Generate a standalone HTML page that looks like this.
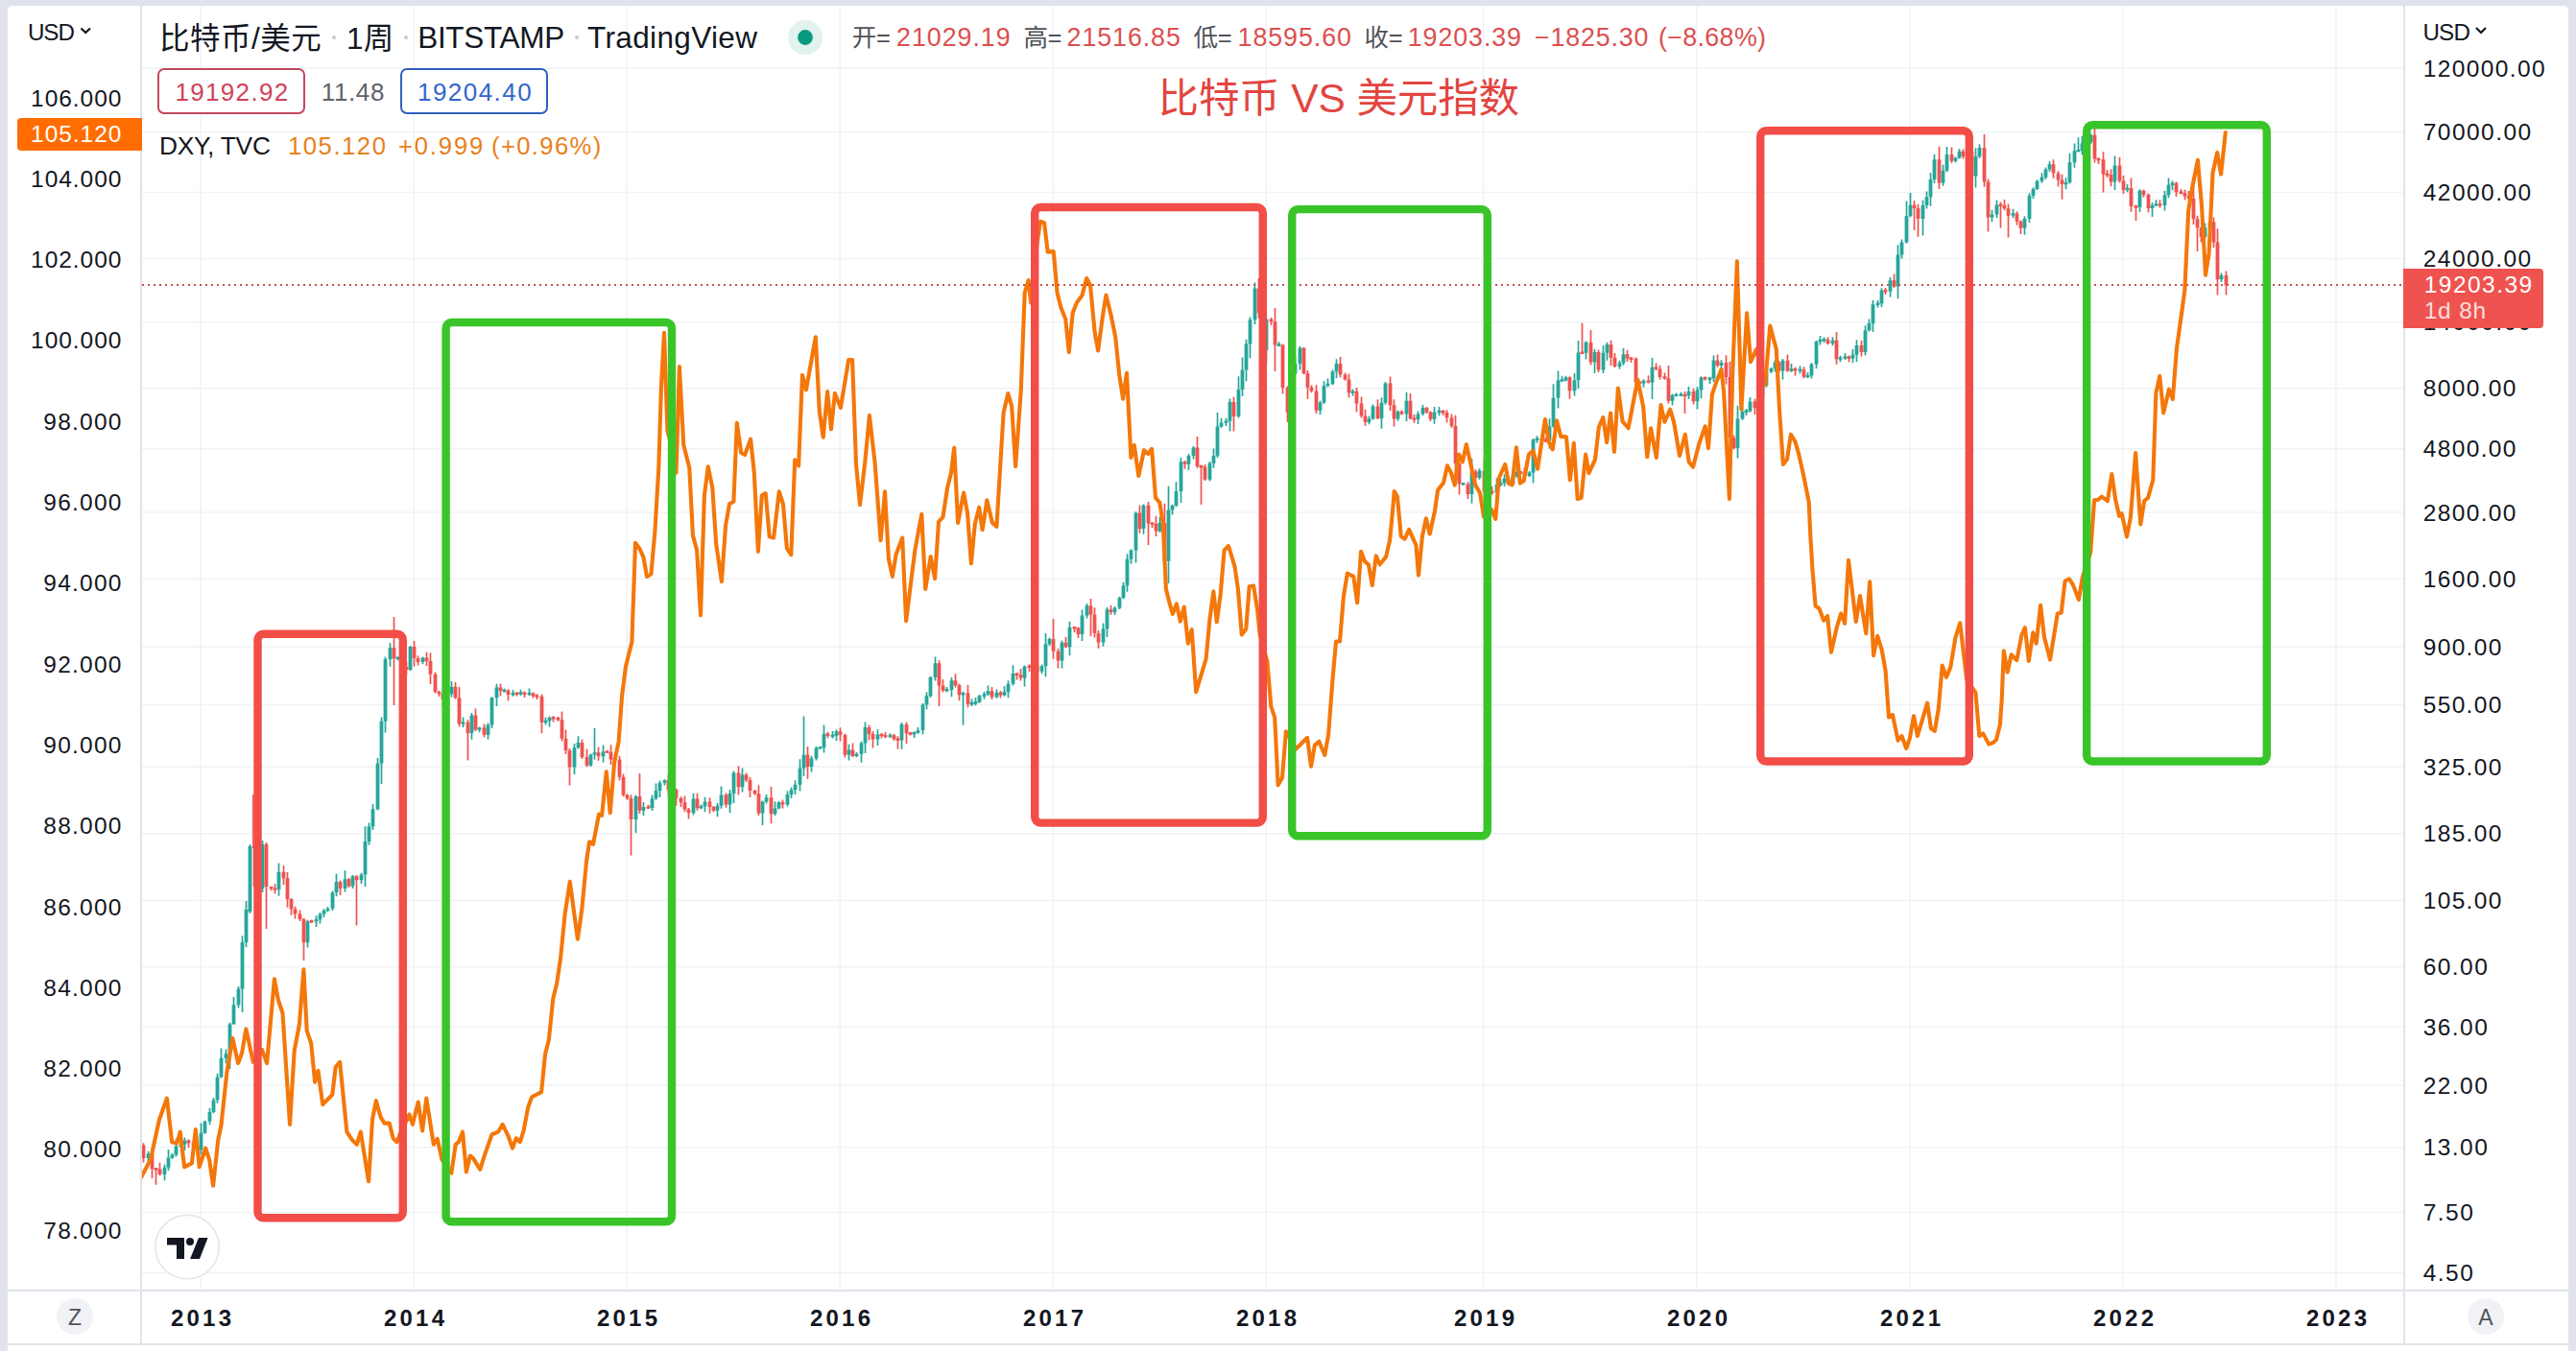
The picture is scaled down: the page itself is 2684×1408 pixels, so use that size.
<!DOCTYPE html>
<html lang="zh"><head><meta charset="utf-8"><title>比特币 VS 美元指数</title>
<style>
html,body{margin:0;padding:0}
body{width:2684px;height:1408px;overflow:hidden;position:relative;background:#e0e3eb;font-family:"Liberation Sans","Noto Sans CJK SC",sans-serif}
#panel{position:absolute;left:8px;top:6px;width:2668px;height:1402px;background:#fff;border-radius:5px 5px 0 0}
.t{position:absolute;white-space:nowrap}
.box{position:absolute;top:70.8px;height:44px;border:2px solid;border-radius:7px;background:#fff}
.dot{position:absolute;top:37px;width:4px;height:4px;border-radius:2px;background:#c9cbd2}
#plab{position:absolute;left:2504px;top:280px;width:146px;height:62px;background:#ef5350;border-radius:0 4px 4px 0}
</style></head><body>
<div id="panel"></div>
<svg width="2684" height="1408" viewBox="0 0 2684 1408" style="position:absolute;left:0;top:0">
<defs><clipPath id="pane"><rect x="148" y="6" width="2356" height="1338"/></clipPath></defs>
<path d="M148 71.2H2504M148 137.6H2504M148 200.5H2504M148 269.4H2504M148 335.8H2504M148 404.8H2504M148 467.7H2504M148 534.1H2504M148 603.0H2504M148 673.9H2504M148 734.5H2504M148 799.3H2504M148 868.7H2504M148 938.5H2504M148 1007.4H2504M148 1070.3H2504M148 1131.0H2504M148 1195.8H2504M148 1263.5H2504M148 1326.4H2504M209.0 6V1344M431.1 6V1344M653.1 6V1344M875.2 6V1344M1097.2 6V1344M1319.3 6V1344M1545.6 6V1344M1767.7 6V1344M1989.8 6V1344M2211.8 6V1344M2433.9 6V1344" stroke="#f0f2f8" stroke-width="1.5" fill="none"/>
<g clip-path="url(#pane)">
<path d="M154.5 1199.7 V1210M171.5 1213.5 V1230.3M175.5 1198 V1220.1M179.5 1201.9 V1208.1M183.5 1186.7 V1205.4M188.5 1189.6 V1195.9M192.5 1185.4 V1198.9M209.5 1170.4 V1203.4M213.5 1167.8 V1181.8M218.5 1155.1 V1172.2M222.5 1143.9 V1160.3M226.5 1118.8 V1149.8M230.5 1092.6 V1123.6M235.5 1093.5 V1108.2M239.5 1065.7 V1113.9M243.5 1038.9 V1067.4M248.5 1027.9 V1050.6M252.5 975.3 V1055M256.5 939 V986.9M260.5 880 V952M273.5 876 V930M290.5 899.4 V933.7M320.5 958.7 V987.5M329.5 954.2 V966M333.5 950.9 V962.6M337.5 947.2 V955.9M341.5 944.9 V950.4M346.5 928.6 V949.1M350.5 910.8 V934.2M359.5 907.3 V929.5M367.5 911.9 V926M376.5 909.7 V921.1M380.5 861.2 V924M384.5 857.6 V880.8M388.5 838 V864.9M393.5 789.9 V844.6M397.5 747.6 V816.9M401.5 684.5 V763.4M406.5 669.9 V694.8M414.5 684.2 V688.2M427.5 673.1 V699.2M440.5 684.5 V692.3M465.5 718.3 V733.2M470.5 710 V726.4M482.5 747.5 V758M491.5 742.9 V770.7M499.5 757.4 V763.3M508.5 753.5 V770.5M512.5 726.3 V758.9M517.5 712.8 V736.1M525.5 717.5 V721.6M534.5 718.9 V725.7M542.5 718.7 V725.1M551.5 717.5 V725.1M568.5 747.4 V755.4M572.5 746.5 V757.4M598.5 775 V807.1M602.5 767.2 V780.6M615.5 785.5 V798.9M619.5 758.7 V791.8M628.5 776.6 V794.6M640.5 790.4 V794.7M662.5 828.4 V867.9M670.5 835.9 V849.9M679.5 828.6 V844.9M683.5 816.6 V833.8M687.5 813.5 V831.1M692.5 812.3 V818.4M700.5 821.9 V824.4M722.5 826.7 V849.6M730.5 838.5 V843.3M734.5 830.8 V846.3M747.5 836.8 V851.2M751.5 819.4 V842.8M760.5 822.9 V847.2M764.5 803.6 V836.9M773.5 800.5 V825.5M794.5 834.4 V860M798.5 828 V837.6M807.5 835.2 V850.1M811.5 835 V843.6M820.5 824.6 V840.4M824.5 820.6 V831.9M828.5 813.3 V828.2M833.5 791.3 V824.6M837.5 746.5 V809.1M845.5 787.8 V804.8M850.5 777.7 V792.5M854.5 777.8 V780.7M858.5 755.5 V784.6M867.5 761.9 V769.4M871.5 760.5 V772.1M884.5 775.8 V792.5M892.5 783.9 V789.3M897.5 772.7 V794.8M901.5 752.4 V784.9M914.5 760.3 V777.1M927.5 764.3 V769M939.5 752.9 V780.7M952.5 762.3 V768.9M956.5 757.9 V764.8M961.5 732.9 V765.6M965.5 721.2 V739.3M969.5 704.7 V727.1M974.5 684.6 V709.6M986.5 716.1 V721.3M991.5 706.1 V726.3M1003.5 720.7 V755.8M1012.5 728.6 V735.9M1016.5 727 V735.3M1020.5 723.9 V732.7M1025.5 720.9 V728.7M1029.5 714.6 V724.9M1038.5 718.6 V727.8M1046.5 715.1 V725.8M1050.5 709.3 V727.2M1055.5 693.3 V714.5M1067.5 693.4 V715.5M1076.5 689.3 V699.9M1085.5 692.6 V702.3M1089.5 660 V705.2M1093.5 664.6 V672.9M1106.5 667.4 V696.6M1114.5 647.7 V683.3M1127.5 635.5 V668M1132.5 629 V644.5M1149.5 649.4 V673.8M1153.5 632.9 V664.1M1161.5 632.1 V641M1166.5 621.7 V634.9M1170.5 606.7 V624.3M1174.5 577.3 V616.7M1178.5 572.3 V587.7M1183.5 533.3 V586.6M1191.5 525.6 V556.8M1208.5 538.7 V555.1M1217.5 506.7 V608M1221.5 525.7 V536.4M1225.5 502.2 V528.3M1230.5 476.9 V523.9M1238.5 472.9 V490.1M1243.5 465 V478.6M1260.5 480.9 V501.5M1264.5 467.6 V487.7M1268.5 429.9 V477.1M1272.5 435.7 V445.8M1277.5 435.8 V444M1281.5 415.4 V449.4M1290.5 392.3 V435.6M1294.5 372.6 V413M1298.5 353.8 V397.2M1302.5 330.4 V373.3M1307.5 294.6 V338.1M1319.5 331.5 V378.4M1332.5 356.2 V361.3M1345.5 382.5 V438.1M1349.5 371.2 V390.6M1354.5 360.7 V385.6M1375.5 417.8 V432.2M1379.5 397.3 V421.1M1383.5 394.6 V403.5M1388.5 385.6 V401.2M1392.5 374.2 V394.1M1409.5 405.8 V412.7M1426.5 433.4 V442.3M1430.5 421.4 V437.6M1439.5 414.3 V446.8M1443.5 398 V421.7M1456.5 427.5 V438.7M1465.5 408.8 V439.1M1477.5 428.5 V441.9M1482.5 422.1 V433.2M1494.5 424 V441.7M1499.5 424.1 V433.2M1524.5 503.2 V505.8M1533.5 478.1 V524.8M1541.5 488.3 V499.8M1550.5 508.7 V515.7M1559.5 498.4 V518.5M1563.5 498.9 V507.3M1567.5 494.2 V507.1M1576.5 492 V505.6M1580.5 486.1 V497.8M1593.5 491.1 V497.2M1597.5 457.1 V503.6M1601.5 454.2 V461.8M1614.5 436.2 V467.6M1618.5 400.3 V445.8M1623.5 386.5 V425.5M1627.5 391.7 V397.7M1631.5 391.8 V397.6M1640.5 389.1 V412.4M1644.5 355 V405M1652.5 355.6 V374.4M1661.5 363.8 V389M1670.5 360 V388.9M1674.5 356.8 V375.8M1687.5 375.8 V384.7M1691.5 363.1 V380.8M1712.5 395.3 V403.8M1721.5 373 V416M1742.5 410.4 V422.4M1746.5 409.4 V413.2M1751.5 408.8 V413M1759.5 402.9 V416.1M1768.5 403.3 V426.6M1772.5 392.3 V415.2M1781.5 392.7 V399.9M1785.5 370.4 V398M1793.5 375.2 V384.1M1810.5 422.8 V477.5M1815.5 423.5 V437.8M1819.5 426.1 V432.9M1823.5 414 V429.7M1832.5 411.1 V427.1M1836.5 399.4 V419.2M1840.5 378.8 V403.4M1845.5 382.8 V389M1849.5 375.3 V387.6M1857.5 374.1 V395.4M1866.5 378.9 V387.7M1875.5 381.2 V389.6M1883.5 388.1 V393.9M1887.5 377.9 V394.5M1892.5 354.9 V384.1M1896.5 350 V359.6M1900.5 351.5 V357.3M1909.5 351.2 V360.3M1917.5 370.7 V377.2M1922.5 368.1 V375.1M1930.5 364.1 V378.3M1934.5 354.3 V376.9M1943.5 339.2 V370.4M1947.5 332.4 V345.4M1951.5 313.1 V346.1M1956.5 312.7 V320.5M1960.5 300.3 V320M1969.5 289 V309.6M1977.5 255.3 V311.2M1981.5 249.4 V269.5M1986.5 209.5 V253.7M1990.5 201 V226.5M2003.5 208.7 V245.5M2007.5 199.6 V217.6M2011.5 180.1 V214.7M2015.5 160.7 V191.1M2024.5 171.6 V193.8M2028.5 153 V179.2M2037.5 163.4 V169.5M2041.5 155.1 V165.5M2050.5 153.3 V165.2M2058.5 154.3 V195.4M2062.5 150.2 V164.9M2075.5 218.9 V231.2M2080.5 208.4 V227M2097.5 217.7 V227.3M2109.5 225.3 V244.7M2114.5 201.2 V232.1M2118.5 195.2 V207M2122.5 187.2 V198M2127.5 180.3 V190.7M2131.5 174.5 V186.9M2135.5 168.2 V179.1M2152.5 185.3 V197.3M2156.5 159.8 V191.6M2161.5 149.6 V174.7M2165.5 143.3 V158.3M2169.5 141.8 V161.6M2173.5 146.7 V150.4M2178.5 139.4 V150M2203.5 162.6 V198M2216.5 192 V200.3M2229.5 197.2 V220.9M2242.5 211.1 V226M2246.5 208.2 V214.9M2255.5 198.8 V219.4M2259.5 185.4 V206.2M2263.5 188.4 V198.2M2297.5 232.5 V249.2M2302.5 231.5 V239.8M2314.5 284.5 V293.9" stroke="#26a69a" stroke-width="1.7" fill="none"/>
<path d="M149.5 1191.2 V1211.6M158.5 1201.1 V1228M162.5 1216.9 V1234.8M166.5 1211.7 V1225.2M196.5 1187.3 V1196M201.5 1188.4 V1198.8M205.5 1189.1 V1200.3M265.5 828 V930M269.5 915 V940M277.5 878 V968M282.5 924.6 V928.2M286.5 921.2 V931.6M295.5 901.9 V922.2M299.5 909 V945.7M303.5 935.9 V953.8M307.5 944.8 V957.5M312.5 948.4 V959.9M316.5 956.8 V1001M324.5 958.5 V962M354.5 917.4 V932.9M363.5 914.9 V925M371.5 912 V964.5M410.5 643 V735M418.5 682.4 V703.1M423.5 689.8 V703.4M431.5 667.9 V694.5M435.5 683.3 V693.4M444.5 679.7 V694.1M448.5 680.5 V713M453.5 700.4 V722.4M457.5 719.7 V726M461.5 718.6 V735.6M474.5 711.1 V728.4M478.5 716 V757.2M487.5 750.2 V792.6M495.5 738.5 V761.9M504.5 754.4 V768.4M521.5 712.6 V725.6M529.5 718.1 V730.3M538.5 721.6 V725.4M546.5 720.5 V727.1M555.5 721.4 V727.4M559.5 723.2 V729.1M564.5 723.4 V764.3M576.5 746.3 V752.4M581.5 746.8 V751.7M585.5 741.4 V772.6M589.5 760.4 V786.1M593.5 780.1 V818.6M606.5 770.4 V790.9M611.5 780.6 V799.2M623.5 778.5 V792.8M632.5 781.7 V785M636.5 776.2 V797.1M645.5 787.8 V813.3M649.5 806.6 V830.2M653.5 827.4 V833.8M657.5 828.3 V891.5M666.5 806 V847.9M675.5 838.7 V843.1M696.5 806.5 V829.8M704.5 821.8 V839.8M709.5 830.3 V841M713.5 829.4 V846M717.5 841.9 V853.4M726.5 826.7 V844.7M739.5 831.5 V847.8M743.5 840.1 V846.3M756.5 826.4 V841.8M769.5 798.3 V828.6M777.5 805.5 V815M781.5 810 V831M786.5 823 V828.7M790.5 818.3 V850M803.5 819.9 V858.2M815.5 833.5 V842.4M841.5 778 V811.8M862.5 762.8 V769.2M875.5 758.3 V772.4M880.5 764.6 V789.5M888.5 774.5 V789.2M905.5 755.6 V771.5M909.5 762.1 V779.6M918.5 764.3 V769.4M922.5 763.1 V769.2M931.5 764.8 V772M935.5 767.3 V780.7M944.5 752.5 V775M948.5 762.8 V766.5M978.5 688.3 V736M982.5 708 V721.5M995.5 702.3 V716.5M999.5 712.5 V730.3M1008.5 713.8 V737.2M1033.5 716.1 V728.9M1042.5 719.9 V727.5M1059.5 700.9 V708.4M1063.5 697.1 V709.4M1072.5 692.4 V699.9M1080.5 691.3 V705.4M1097.5 645 V686.7M1102.5 675.8 V696.6M1110.5 663.9 V675.3M1119.5 652.8 V659M1123.5 653.4 V665.1M1136.5 624 V663M1140.5 633.2 V664.6M1144.5 656.8 V675.8M1157.5 630.7 V640.7M1187.5 526.6 V555.8M1196.5 523.1 V568M1200.5 544.3 V550M1204.5 537.8 V558.9M1213.5 524.8 V592.6M1234.5 480 V488.8M1247.5 455 V488.1M1251.5 484.4 V526M1255.5 483.9 V500.9M1285.5 413.8 V449.6M1311.5 289.9 V331.5M1315.5 323.9 V378.3M1324.5 331.1 V338.9M1328.5 320.9 V387M1336.5 358.4 V410.5M1341.5 402.2 V440M1358.5 361.7 V390.2M1362.5 386.1 V415.7M1366.5 401.6 V409.2M1371.5 401.3 V431M1396.5 372 V393.6M1401.5 388.6 V396.4M1405.5 389.4 V414.4M1413.5 404.1 V429.6M1418.5 413.6 V435.6M1422.5 426.8 V444M1435.5 416.2 V437.1M1448.5 392.5 V427.9M1452.5 416.2 V444.6M1460.5 427.2 V432.6M1469.5 409.9 V437.3M1473.5 432 V440.7M1486.5 423.9 V431.1M1490.5 428.4 V439.1M1503.5 426.9 V432.9M1507.5 427.2 V440.6M1512.5 431.5 V445.9M1516.5 432.8 V502.8M1520.5 480.9 V515.6M1529.5 502.3 V520M1537.5 489.2 V504.4M1546.5 478.6 V519.8M1554.5 506.8 V515.7M1571.5 496.8 V506.1M1584.5 491.1 V494M1588.5 487 V498.2M1606.5 453.6 V459.8M1610.5 455.8 V461.2M1635.5 392.2 V415.7M1648.5 336.8 V368.9M1657.5 343.9 V380.6M1665.5 364.6 V388.1M1678.5 354.8 V381.1M1682.5 368 V383.1M1695.5 364.8 V376.9M1699.5 372.2 V378.1M1704.5 372.5 V409.7M1708.5 397.1 V400.4M1717.5 391.2 V399.4M1725.5 378.4 V385.9M1729.5 380.9 V395.4M1734.5 388.4 V395.8M1738.5 380.9 V420.7M1755.5 407.9 V431M1764.5 405.1 V421.4M1776.5 392.5 V396.6M1789.5 369.4 V382.8M1798.5 370.3 V400.5M1802.5 376.7 V463.2M1806.5 453.6 V468.5M1828.5 415.4 V431.9M1853.5 376.1 V388.9M1862.5 369.6 V387.8M1870.5 382.4 V391.4M1879.5 382.2 V394.3M1904.5 351.2 V359.2M1913.5 346.1 V379.8M1926.5 370.5 V377.4M1939.5 355.1 V371.6M1964.5 300.1 V307M1973.5 285.5 V299.9M1994.5 209 V240M1998.5 212.7 V246.8M2020.5 152.7 V197M2033.5 153.4 V170.1M2045.5 155.2 V165.6M2054.5 154.9 V185.9M2067.5 140.1 V194.8M2071.5 186.6 V241.5M2084.5 210.6 V237.6M2088.5 208.1 V219.3M2092.5 212.6 V247.5M2101.5 220.2 V234.7M2105.5 229.5 V243.9M2139.5 166.3 V185.8M2144.5 178.2 V194.4M2148.5 181.7 V207.7M2182.5 130.2 V169.5M2186.5 164.4 V171M2191.5 158.2 V200.6M2195.5 177 V185.1M2199.5 176.3 V194.3M2208.5 163.7 V190.5M2212.5 183.1 V201.9M2220.5 185.5 V220.8M2225.5 213.4 V230M2233.5 197.7 V205.7M2238.5 201.4 V221.4M2250.5 208.3 V216.4M2267.5 189.5 V205.1M2272.5 196.9 V202.4M2276.5 197.8 V208.5M2280.5 199 V209.1M2285.5 193.9 V233.9M2289.5 224.8 V262M2293.5 236.3 V252.4M2306.5 226.4 V258.1M2310.5 238.2 V307.4M2319.5 282.4 V307.6" stroke="#ef5350" stroke-width="1.7" fill="none"/>
<path d="M152.6 1202.6h3.8V1207.1h-3.8zM169.6 1216.7h3.8V1224.1h-3.8zM173.6 1206.6h3.8V1216.7h-3.8zM177.6 1203.6h3.8V1206.6h-3.8zM181.6 1194.6h3.8V1203.6h-3.8zM186.6 1192.5h3.8V1194.9h-3.8zM190.6 1188.6h3.8V1192.7h-3.8zM207.6 1180.8h3.8V1198.6h-3.8zM211.6 1168.8h3.8V1180.8h-3.8zM216.6 1158.9h3.8V1168.8h-3.8zM220.6 1146.4h3.8V1158.9h-3.8zM224.6 1122.6h3.8V1146.4h-3.8zM228.6 1102.8h3.8V1122.6h-3.8zM233.6 1098.3h3.8V1102.8h-3.8zM237.6 1067.4h3.8V1098.3h-3.8zM241.6 1047.2h3.8V1067.4h-3.8zM246.6 1030.6h3.8V1047.2h-3.8zM250.6 982.1h3.8V1030.6h-3.8zM254.6 948h3.8V982.1h-3.8zM258.6 882h3.8V950h-3.8zM271.6 880h3.8V926h-3.8zM288.6 908.7h3.8V927h-3.8zM318.6 960.3h3.8V982.3h-3.8zM327.6 958.1h3.8V960.5h-3.8zM331.6 952.7h3.8V958.3h-3.8zM335.6 949.1h3.8V952.7h-3.8zM339.6 946.9h3.8V949.3h-3.8zM344.6 930.3h3.8V947h-3.8zM348.6 919.1h3.8V930.3h-3.8zM357.6 916.2h3.8V926.1h-3.8zM365.6 913.2h3.8V923.4h-3.8zM374.6 911.5h3.8V917.3h-3.8zM378.6 877.1h3.8V911.5h-3.8zM382.6 861.3h3.8V877.1h-3.8zM386.6 843.2h3.8V861.3h-3.8zM391.6 795.5h3.8V843.2h-3.8zM395.6 751.7h3.8V795.5h-3.8zM399.6 686.9h3.8V751.7h-3.8zM404.6 675.2h3.8V686.9h-3.8zM412.6 684.7h3.8V687.1h-3.8zM425.6 674.1h3.8V698.1h-3.8zM438.6 685.5h3.8V689.9h-3.8zM463.6 723.2h3.8V728.9h-3.8zM468.6 715.7h3.8V723.2h-3.8zM480.6 752.4h3.8V754.8h-3.8zM489.6 745.4h3.8V763.9h-3.8zM497.6 758.3h3.8V760.7h-3.8zM506.6 755.4h3.8V765.7h-3.8zM510.6 727.3h3.8V755.4h-3.8zM515.6 716.4h3.8V727.3h-3.8zM523.6 718.8h3.8V721.2h-3.8zM532.6 722.1h3.8V724.5h-3.8zM540.6 721.3h3.8V723.7h-3.8zM549.6 721.8h3.8V724.2h-3.8zM566.6 750.8h3.8V753.2h-3.8zM570.6 748h3.8V751.3h-3.8zM596.6 779.3h3.8V799.5h-3.8zM600.6 773.9h3.8V779.3h-3.8zM613.6 786.6h3.8V797.8h-3.8zM617.6 784.2h3.8V786.6h-3.8zM626.6 783.5h3.8V788.3h-3.8zM638.6 790.3h3.8V792.7h-3.8zM660.6 830h3.8V854h-3.8zM668.6 841h3.8V844.8h-3.8zM677.6 832.2h3.8V842.1h-3.8zM681.6 824h3.8V832.2h-3.8zM685.6 816.1h3.8V824h-3.8zM690.6 813.3h3.8V816.1h-3.8zM698.6 822h3.8V824.4h-3.8zM720.6 832.5h3.8V847.3h-3.8zM728.6 840h3.8V842.4h-3.8zM732.6 835.6h3.8V840.2h-3.8zM745.6 839.8h3.8V844.7h-3.8zM749.6 828.4h3.8V839.8h-3.8zM758.6 826.9h3.8V838.5h-3.8zM762.6 805.6h3.8V826.9h-3.8zM771.6 807.6h3.8V820.2h-3.8zM792.6 835.6h3.8V847.5h-3.8zM796.6 831.3h3.8V835.6h-3.8zM805.6 842.4h3.8V848.2h-3.8zM809.6 836.2h3.8V842.4h-3.8zM818.6 828h3.8V838.5h-3.8zM822.6 823.2h3.8V828h-3.8zM826.6 817.7h3.8V823.2h-3.8zM831.6 800.7h3.8V817.7h-3.8zM835.6 786.8h3.8V800.7h-3.8zM843.6 790.5h3.8V799.1h-3.8zM848.6 779.5h3.8V790.5h-3.8zM852.6 778.2h3.8V780.6h-3.8zM856.6 764.7h3.8V779.3h-3.8zM865.6 765.7h3.8V768.1h-3.8zM869.6 762.2h3.8V766.8h-3.8zM882.6 781.4h3.8V786.7h-3.8zM890.6 785.7h3.8V788.1h-3.8zM895.6 774.4h3.8V785.7h-3.8zM899.6 758.1h3.8V774.4h-3.8zM912.6 765.5h3.8V770.5h-3.8zM925.6 765.8h3.8V768.2h-3.8zM937.6 754.9h3.8V771.4h-3.8zM950.6 763h3.8V765.4h-3.8zM954.6 761h3.8V763.7h-3.8zM959.6 734.4h3.8V761h-3.8zM963.6 725.3h3.8V734.4h-3.8zM967.6 706h3.8V725.3h-3.8zM972.6 691.3h3.8V706h-3.8zM984.6 718h3.8V720.4h-3.8zM989.6 709.2h3.8V718.9h-3.8zM1001.6 722h3.8V724.4h-3.8zM1010.6 732.1h3.8V734.5h-3.8zM1014.6 731.1h3.8V733.5h-3.8zM1018.6 725.3h3.8V731.7h-3.8zM1023.6 723.3h3.8V725.7h-3.8zM1027.6 720.3h3.8V723.7h-3.8zM1036.6 721.7h3.8V726.4h-3.8zM1044.6 721h3.8V724.6h-3.8zM1048.6 712.8h3.8V721h-3.8zM1053.6 702.1h3.8V712.8h-3.8zM1065.6 694.5h3.8V706.6h-3.8zM1074.6 692.7h3.8V695.2h-3.8zM1083.6 694.2h3.8V699.7h-3.8zM1087.6 671.3h3.8V694.2h-3.8zM1091.6 666.1h3.8V671.3h-3.8zM1104.6 669.8h3.8V688.5h-3.8zM1112.6 653.8h3.8V674.3h-3.8zM1125.6 641.4h3.8V661.1h-3.8zM1130.6 631.3h3.8V641.4h-3.8zM1147.6 655.2h3.8V669.5h-3.8zM1151.6 635.2h3.8V655.2h-3.8zM1159.6 633.6h3.8V638.1h-3.8zM1164.6 623h3.8V633.6h-3.8zM1168.6 610.3h3.8V623h-3.8zM1172.6 582.7h3.8V610.3h-3.8zM1176.6 573.4h3.8V582.7h-3.8zM1181.6 534.8h3.8V573.4h-3.8zM1189.6 526.8h3.8V550.9h-3.8zM1206.6 545.1h3.8V553.4h-3.8zM1215.6 531.4h3.8V584.8h-3.8zM1219.6 527.1h3.8V531.4h-3.8zM1223.6 512.1h3.8V527.1h-3.8zM1228.6 481.3h3.8V512.1h-3.8zM1236.6 475h3.8V483.7h-3.8zM1241.6 466.4h3.8V475h-3.8zM1258.6 482.7h3.8V499.8h-3.8zM1262.6 475h3.8V482.7h-3.8zM1266.6 444.6h3.8V475h-3.8zM1270.6 440.6h3.8V444.6h-3.8zM1275.6 438.4h3.8V440.8h-3.8zM1279.6 419h3.8V438.7h-3.8zM1288.6 406h3.8V434.1h-3.8zM1292.6 385.6h3.8V406h-3.8zM1296.6 358.5h3.8V385.6h-3.8zM1300.6 333.3h3.8V358.5h-3.8zM1305.6 300.5h3.8V333.3h-3.8zM1317.6 332.7h3.8V364.9h-3.8zM1330.6 358.3h3.8V360.7h-3.8zM1343.6 389.2h3.8V429.7h-3.8zM1347.6 379.1h3.8V389.2h-3.8zM1352.6 362.8h3.8V379.1h-3.8zM1373.6 419.5h3.8V427.7h-3.8zM1377.6 401.9h3.8V419.5h-3.8zM1381.6 399.7h3.8V402.1h-3.8zM1386.6 387.2h3.8V400h-3.8zM1390.6 378.9h3.8V387.2h-3.8zM1407.6 407.4h3.8V409.8h-3.8zM1424.6 436.5h3.8V439.9h-3.8zM1428.6 423.5h3.8V436.5h-3.8zM1437.6 419.7h3.8V436.1h-3.8zM1441.6 399.6h3.8V419.7h-3.8zM1454.6 429h3.8V436.5h-3.8zM1463.6 417.8h3.8V431.6h-3.8zM1475.6 431.5h3.8V437h-3.8zM1480.6 425.1h3.8V431.5h-3.8zM1492.6 429.5h3.8V436.7h-3.8zM1497.6 427.8h3.8V430.2h-3.8zM1522.6 503.1h3.8V505.5h-3.8zM1531.6 491.5h3.8V515.1h-3.8zM1539.6 490.6h3.8V498h-3.8zM1548.6 511.1h3.8V513.5h-3.8zM1557.6 505h3.8V513.2h-3.8zM1561.6 503.1h3.8V505.5h-3.8zM1565.6 498.8h3.8V503.6h-3.8zM1574.6 496.5h3.8V504.5h-3.8zM1578.6 492.1h3.8V496.5h-3.8zM1591.6 492.4h3.8V496.1h-3.8zM1595.6 458.3h3.8V492.4h-3.8zM1599.6 456.6h3.8V459h-3.8zM1612.6 444.5h3.8V459.2h-3.8zM1616.6 414.7h3.8V444.5h-3.8zM1621.6 396.6h3.8V414.7h-3.8zM1625.6 395.3h3.8V397.7h-3.8zM1629.6 393.3h3.8V396.4h-3.8zM1638.6 396.2h3.8V407.2h-3.8zM1642.6 367.6h3.8V396.2h-3.8zM1650.6 356.8h3.8V367.8h-3.8zM1659.6 367.1h3.8V377.4h-3.8zM1668.6 367.7h3.8V385.4h-3.8zM1672.6 359.1h3.8V367.7h-3.8zM1685.6 378.3h3.8V382.1h-3.8zM1689.6 369.3h3.8V378.3h-3.8zM1710.6 396.7h3.8V399.4h-3.8zM1719.6 382.7h3.8V398.4h-3.8zM1740.6 412h3.8V417.7h-3.8zM1744.6 410.7h3.8V413.1h-3.8zM1749.6 410.6h3.8V413h-3.8zM1757.6 407.9h3.8V412.2h-3.8zM1766.6 406.5h3.8V418.3h-3.8zM1770.6 393.5h3.8V406.5h-3.8zM1779.6 393.5h3.8V395.9h-3.8zM1783.6 375.5h3.8V394.3h-3.8zM1791.6 377.9h3.8V381.1h-3.8zM1808.6 436.4h3.8V467h-3.8zM1813.6 429h3.8V436.4h-3.8zM1817.6 427.5h3.8V429.9h-3.8zM1821.6 418.5h3.8V428.4h-3.8zM1830.6 413.2h3.8V425.3h-3.8zM1834.6 401.8h3.8V413.2h-3.8zM1838.6 387.4h3.8V401.8h-3.8zM1843.6 384.1h3.8V387.4h-3.8zM1847.6 377.6h3.8V384.1h-3.8zM1855.6 375.8h3.8V386.5h-3.8zM1864.6 384.3h3.8V386.7h-3.8zM1873.6 384.4h3.8V386.8h-3.8zM1881.6 390.9h3.8V393.3h-3.8zM1885.6 379.7h3.8V391.4h-3.8zM1890.6 355.9h3.8V379.7h-3.8zM1894.6 353.9h3.8V356.3h-3.8zM1898.6 352.9h3.8V355.3h-3.8zM1907.6 354.7h3.8V357.9h-3.8zM1915.6 372.4h3.8V374.8h-3.8zM1920.6 371.3h3.8V373.7h-3.8zM1928.6 369.7h3.8V373.5h-3.8zM1932.6 360h3.8V369.7h-3.8zM1941.6 344.2h3.8V367.1h-3.8zM1945.6 336.9h3.8V344.2h-3.8zM1949.6 317.3h3.8V336.9h-3.8zM1954.6 315.6h3.8V318h-3.8zM1958.6 302.5h3.8V316.3h-3.8zM1967.6 292.3h3.8V303.8h-3.8zM1975.6 265.4h3.8V298.4h-3.8zM1979.6 252.6h3.8V265.4h-3.8zM1984.6 225h3.8V252.6h-3.8zM1988.6 213.7h3.8V225h-3.8zM2001.6 213.9h3.8V228h-3.8zM2005.6 205.2h3.8V213.9h-3.8zM2009.6 186.9h3.8V205.2h-3.8zM2013.6 166.3h3.8V186.9h-3.8zM2022.6 177.8h3.8V190.6h-3.8zM2026.6 161h3.8V177.8h-3.8zM2035.6 164.5h3.8V167.7h-3.8zM2039.6 157.8h3.8V164.5h-3.8zM2048.6 157.8h3.8V163h-3.8zM2056.6 163.1h3.8V183.4h-3.8zM2060.6 154.1h3.8V163.1h-3.8zM2073.6 223.4h3.8V226.5h-3.8zM2078.6 213.4h3.8V223.4h-3.8zM2095.6 222.3h3.8V224.7h-3.8zM2107.6 228h3.8V237.7h-3.8zM2112.6 204.1h3.8V228h-3.8zM2116.6 197h3.8V204.1h-3.8zM2120.6 188.8h3.8V197h-3.8zM2125.6 184.7h3.8V188.8h-3.8zM2129.6 176.4h3.8V184.7h-3.8zM2133.6 171.2h3.8V176.4h-3.8zM2150.6 189.9h3.8V192.3h-3.8zM2154.6 169.3h3.8V190h-3.8zM2159.6 157.3h3.8V169.3h-3.8zM2163.6 155.9h3.8V158.3h-3.8zM2167.6 149.3h3.8V156.9h-3.8zM2171.6 147.6h3.8V150h-3.8zM2176.6 140.8h3.8V148.3h-3.8zM2201.6 172.6h3.8V189.5h-3.8zM2214.6 195.8h3.8V198.2h-3.8zM2227.6 198.8h3.8V216.1h-3.8zM2240.6 213.9h3.8V217h-3.8zM2244.6 212.2h3.8V214.6h-3.8zM2253.6 203.3h3.8V213.9h-3.8zM2257.6 192.7h3.8V203.3h-3.8zM2261.6 190.5h3.8V192.9h-3.8zM2295.6 237.4h3.8V246.7h-3.8zM2300.6 231.5h3.8V237.4h-3.8zM2312.6 287.1h3.8V291.3h-3.8z" fill="#26a69a"/>
<path d="M147.6 1193.6h3.8V1207.1h-3.8zM156.6 1202.6h3.8V1218.3h-3.8zM160.6 1217.1h3.8V1219.5h-3.8zM164.6 1218.4h3.8V1224.1h-3.8zM194.6 1188.6h3.8V1191.2h-3.8zM199.6 1191.2h3.8V1193.6h-3.8zM203.6 1193.6h3.8V1198.6h-3.8zM263.6 882h3.8V924h-3.8zM267.6 924h3.8V928h-3.8zM275.6 880h3.8V924h-3.8zM280.6 923.9h3.8V926.3h-3.8zM284.6 925.4h3.8V927.8h-3.8zM293.6 908.7h3.8V915.2h-3.8zM297.6 915.2h3.8V937h-3.8zM301.6 937h3.8V947.6h-3.8zM305.6 947.6h3.8V952.6h-3.8zM310.6 952.6h3.8V958h-3.8zM314.6 958h3.8V982.3h-3.8zM322.6 959.1h3.8V961.5h-3.8zM352.6 919.1h3.8V926.1h-3.8zM361.6 916.2h3.8V923.4h-3.8zM369.6 913.2h3.8V917.3h-3.8zM408.6 675.2h3.8V686.2h-3.8zM416.6 685.7h3.8V694.9h-3.8zM421.6 694.9h3.8V698.1h-3.8zM429.6 674.1h3.8V686.1h-3.8zM433.6 686.1h3.8V689.9h-3.8zM442.6 685.5h3.8V689h-3.8zM446.6 689h3.8V702.8h-3.8zM451.6 702.8h3.8V721h-3.8zM455.6 720.9h3.8V723.3h-3.8zM459.6 723.2h3.8V728.9h-3.8zM472.6 715.7h3.8V727.3h-3.8zM476.6 727.3h3.8V754.6h-3.8zM485.6 752.7h3.8V763.9h-3.8zM493.6 745.4h3.8V760.5h-3.8zM502.6 758.5h3.8V765.7h-3.8zM519.6 716.4h3.8V720.1h-3.8zM527.6 719.8h3.8V724h-3.8zM536.6 721.6h3.8V724h-3.8zM544.6 721.6h3.8V724h-3.8zM553.6 722.5h3.8V725.4h-3.8zM557.6 724.4h3.8V726.8h-3.8zM562.6 725.7h3.8V752.8h-3.8zM574.6 747h3.8V749.4h-3.8zM579.6 748.1h3.8V750.5h-3.8zM583.6 750.2h3.8V769.7h-3.8zM587.6 769.7h3.8V782h-3.8zM591.6 782h3.8V799.5h-3.8zM604.6 773.9h3.8V788.9h-3.8zM609.6 788.9h3.8V797.8h-3.8zM621.6 784.2h3.8V788.3h-3.8zM630.6 782.4h3.8V784.8h-3.8zM634.6 783.7h3.8V791.5h-3.8zM643.6 791.5h3.8V809.8h-3.8zM647.6 809.8h3.8V828.4h-3.8zM651.6 828.4h3.8V832h-3.8zM655.6 832h3.8V854h-3.8zM664.6 830h3.8V844.8h-3.8zM673.6 840.3h3.8V842.7h-3.8zM694.6 813.3h3.8V823.4h-3.8zM702.6 822.9h3.8V832.1h-3.8zM707.6 832.1h3.8V836.3h-3.8zM711.6 836.3h3.8V843.6h-3.8zM715.6 843.6h3.8V847.3h-3.8zM724.6 832.5h3.8V842.3h-3.8zM737.6 835.6h3.8V841.1h-3.8zM741.6 841.1h3.8V844.7h-3.8zM754.6 828.4h3.8V838.5h-3.8zM767.6 805.6h3.8V820.2h-3.8zM775.6 807.6h3.8V812.9h-3.8zM779.6 812.9h3.8V824.1h-3.8zM784.6 824.1h3.8V827.2h-3.8zM788.6 827.2h3.8V847.5h-3.8zM801.6 831.3h3.8V848.2h-3.8zM813.6 836.1h3.8V838.5h-3.8zM839.6 786.8h3.8V799.1h-3.8zM860.6 764.6h3.8V767h-3.8zM873.6 762.2h3.8V766h-3.8zM878.6 766h3.8V786.7h-3.8zM886.6 781.4h3.8V788.1h-3.8zM903.6 758.1h3.8V765h-3.8zM907.6 765h3.8V770.5h-3.8zM916.6 764.7h3.8V767.1h-3.8zM920.6 765.9h3.8V768.3h-3.8zM929.6 766.3h3.8V770.3h-3.8zM933.6 769.6h3.8V772h-3.8zM942.6 754.9h3.8V764.2h-3.8zM946.6 763.3h3.8V765.7h-3.8zM976.6 691.3h3.8V714.6h-3.8zM980.6 714.6h3.8V719.5h-3.8zM993.6 709.2h3.8V714.2h-3.8zM997.6 714.2h3.8V724.3h-3.8zM1006.6 722.2h3.8V733.8h-3.8zM1031.6 720.3h3.8V726.4h-3.8zM1040.6 721.7h3.8V724.6h-3.8zM1057.6 701.5h3.8V703.9h-3.8zM1061.6 703.3h3.8V706.6h-3.8zM1070.6 693.6h3.8V696h-3.8zM1078.6 692.7h3.8V699.7h-3.8zM1095.6 666.1h3.8V678.7h-3.8zM1100.6 678.7h3.8V688.5h-3.8zM1108.6 669.8h3.8V674.3h-3.8zM1117.6 653h3.8V655.4h-3.8zM1121.6 654.6h3.8V661.1h-3.8zM1134.6 631.3h3.8V640.5h-3.8zM1138.6 640.5h3.8V660.1h-3.8zM1142.6 660.1h3.8V669.5h-3.8zM1155.6 635.2h3.8V638.1h-3.8zM1185.6 534.8h3.8V550.9h-3.8zM1194.6 526.8h3.8V545.5h-3.8zM1198.6 544.4h3.8V546.8h-3.8zM1202.6 545.8h3.8V553.4h-3.8zM1211.6 545.1h3.8V584.8h-3.8zM1232.6 481.3h3.8V483.7h-3.8zM1245.6 466.4h3.8V486h-3.8zM1249.6 485.1h3.8V487.5h-3.8zM1253.6 486.6h3.8V499.8h-3.8zM1283.6 419h3.8V434.1h-3.8zM1309.6 300.5h3.8V326.3h-3.8zM1313.6 326.3h3.8V364.9h-3.8zM1322.6 332.7h3.8V335.3h-3.8zM1326.6 335.3h3.8V359.6h-3.8zM1334.6 359.4h3.8V404h-3.8zM1339.6 404h3.8V429.7h-3.8zM1356.6 362.8h3.8V389.2h-3.8zM1360.6 389.2h3.8V403.8h-3.8zM1364.6 403.8h3.8V407.6h-3.8zM1369.6 407.6h3.8V427.7h-3.8zM1394.6 378.9h3.8V390.4h-3.8zM1399.6 390.4h3.8V395.4h-3.8zM1403.6 395.4h3.8V409.3h-3.8zM1411.6 407.8h3.8V420.4h-3.8zM1416.6 420.4h3.8V433.5h-3.8zM1420.6 433.5h3.8V439.9h-3.8zM1433.6 423.5h3.8V436.1h-3.8zM1446.6 399.6h3.8V422.2h-3.8zM1450.6 422.2h3.8V436.5h-3.8zM1458.6 429h3.8V431.6h-3.8zM1467.6 417.8h3.8V436.3h-3.8zM1471.6 435.4h3.8V437.8h-3.8zM1484.6 425.1h3.8V429.4h-3.8zM1488.6 429.4h3.8V436.7h-3.8zM1501.6 428h3.8V430.4h-3.8zM1505.6 430h3.8V435.3h-3.8zM1510.6 435.3h3.8V443.9h-3.8zM1514.6 443.9h3.8V483.1h-3.8zM1518.6 483.1h3.8V504.3h-3.8zM1527.6 504.2h3.8V515.1h-3.8zM1535.6 491.5h3.8V498h-3.8zM1544.6 490.6h3.8V512.5h-3.8zM1552.6 511.5h3.8V513.9h-3.8zM1569.6 498.8h3.8V504.5h-3.8zM1582.6 491.3h3.8V493.7h-3.8zM1586.6 492.8h3.8V496.1h-3.8zM1604.6 456.9h3.8V459.3h-3.8zM1608.6 457.8h3.8V460.2h-3.8zM1633.6 393.3h3.8V407.2h-3.8zM1646.6 366.5h3.8V368.9h-3.8zM1655.6 356.8h3.8V377.4h-3.8zM1663.6 367.1h3.8V385.4h-3.8zM1676.6 359.1h3.8V372.7h-3.8zM1680.6 372.7h3.8V382.1h-3.8zM1693.6 369.3h3.8V373.6h-3.8zM1697.6 372.5h3.8V374.9h-3.8zM1702.6 373.8h3.8V398.4h-3.8zM1706.6 397.7h3.8V400.1h-3.8zM1715.6 396.4h3.8V398.8h-3.8zM1723.6 382.4h3.8V384.8h-3.8zM1727.6 384.5h3.8V392.9h-3.8zM1732.6 392.3h3.8V394.7h-3.8zM1736.6 394.2h3.8V417.7h-3.8zM1753.6 410.8h3.8V413.2h-3.8zM1762.6 407.9h3.8V418.3h-3.8zM1774.6 393.1h3.8V395.5h-3.8zM1787.6 375.5h3.8V381.1h-3.8zM1796.6 377.9h3.8V392.9h-3.8zM1800.6 392.9h3.8V456.2h-3.8zM1804.6 456.2h3.8V467h-3.8zM1826.6 418.5h3.8V425.3h-3.8zM1851.6 377.6h3.8V386.5h-3.8zM1860.6 375.8h3.8V386.5h-3.8zM1868.6 384h3.8V386.4h-3.8zM1877.6 385.2h3.8V392.7h-3.8zM1902.6 353.9h3.8V357.9h-3.8zM1911.6 354.7h3.8V374.2h-3.8zM1924.6 371.5h3.8V373.9h-3.8zM1937.6 360h3.8V367.1h-3.8zM1962.6 302h3.8V304.4h-3.8zM1971.6 292.3h3.8V298.4h-3.8zM1992.6 213.7h3.8V216.9h-3.8zM1996.6 216.9h3.8V228h-3.8zM2018.6 166.3h3.8V190.6h-3.8zM2031.6 161h3.8V167.7h-3.8zM2043.6 157.8h3.8V163h-3.8zM2052.6 157.8h3.8V183.4h-3.8zM2065.6 154.1h3.8V189.4h-3.8zM2069.6 189.4h3.8V226.5h-3.8zM2082.6 212.5h3.8V214.9h-3.8zM2086.6 214h3.8V217.2h-3.8zM2090.6 217.2h3.8V224.7h-3.8zM2099.6 222.4h3.8V230.8h-3.8zM2103.6 230.8h3.8V237.7h-3.8zM2137.6 171.2h3.8V180.6h-3.8zM2142.6 180.6h3.8V187.4h-3.8zM2146.6 187.4h3.8V192.1h-3.8zM2180.6 140.8h3.8V165.6h-3.8zM2184.6 164.8h3.8V167.2h-3.8zM2189.6 166.3h3.8V181.5h-3.8zM2193.6 180.6h3.8V183h-3.8zM2197.6 182.1h3.8V189.5h-3.8zM2206.6 172.6h3.8V188.6h-3.8zM2210.6 188.6h3.8V197.9h-3.8zM2218.6 196.1h3.8V215h-3.8zM2223.6 214.3h3.8V216.7h-3.8zM2231.6 198.8h3.8V202.9h-3.8zM2236.6 202.9h3.8V217h-3.8zM2248.6 212.2h3.8V214.6h-3.8zM2265.6 190.7h3.8V200.2h-3.8zM2270.6 199.6h3.8V202h-3.8zM2274.6 201.3h3.8V204.5h-3.8zM2278.6 204.5h3.8V207.1h-3.8zM2283.6 207.1h3.8V228.3h-3.8zM2287.6 228.3h3.8V237.3h-3.8zM2291.6 237.3h3.8V246.7h-3.8zM2304.6 231.5h3.8V252.4h-3.8zM2308.6 252.4h3.8V291.3h-3.8zM2317.6 287.1h3.8V297.2h-3.8z" fill="#ef5350"/>
<path d="M263.6 828V884" stroke="#ef5350" stroke-width="1.3" fill="none"/>
<path d="M147 1227.2 L156.9 1208.4 L166 1166.7 L173.9 1144.6 L179.1 1190.2 L184.3 1191.5 L187.7 1179.7 L192.1 1216.2 L199.9 1212.3 L203.8 1177.1 L207.7 1216.2 L214.2 1196.7 L218.1 1208.4 L222.1 1235.8 L227.3 1187.6 L230.4 1173.2 L236.4 1117.2 L242.4 1082.1 L248.1 1108.1 L252 1097.7 L256.4 1072.4 L263.7 1106.8 L272.9 1093.8 L278.1 1108.1 L285.9 1020.3 L289.8 1041.7 L294.5 1056 L302 1171.9 L306.7 1095.1 L311.9 1067.7 L316.4 1010.4 L319.7 1074.2 L324.2 1087.3 L328.1 1127.6 L331.5 1115.9 L336.2 1151.1 L346.3 1140.7 L349.7 1112 L354.1 1106.8 L361.4 1179.7 L366.6 1187.6 L371.8 1192.8 L375.8 1179.7 L384.1 1231.3 L388 1166.7 L391.9 1147.2 L396.6 1164.1 L400.5 1170.6 L405.7 1170.6 L409.6 1186.3 L413.5 1190.2 L416.6 1182.3 L426.5 1161.5 L429.9 1171.9 L435.7 1148.5 L440.1 1178.4 L444.3 1144.6 L451.8 1192.8 L455.7 1187 L460.4 1208.4 L470.3 1222.7 L474.7 1192.8 L477.9 1190.2 L482 1179.7 L485.9 1221.4 L489.8 1204.5 L493 1207.1 L500.3 1218.8 L504.7 1204.5 L512.5 1182.3 L519 1179.7 L523.7 1171.9 L530 1185 L533.9 1196.7 L537.8 1186.3 L541.9 1190.2 L545.6 1178.4 L550.3 1153.7 L554.2 1143.3 L564.1 1138.1 L568 1099 L571.9 1083.4 L576.3 1040.4 L580.2 1024.7 L584.1 998.4 L588.6 952.8 L593.8 918.9 L601.9 978.8 L606.3 947.6 L611 898.1 L614.1 877.2 L618 879.8 L624 848.6 L627.1 849.9 L631.8 804.3 L635.7 847.3 L640.2 793.9 L644.6 773 L648 726.1 L651.9 694.9 L658.4 668.8 L662 565.7 L666.7 572.2 L670.6 581.3 L674 600.9 L678.4 598.3 L682.3 555.3 L686.3 487.6 L688.9 404.2 L692 346.9 L695.4 448.5 L700.1 466.7 L704.5 492.8 L707.9 382.1 L712.3 464.1 L718.3 487.6 L721.9 557.9 L726.1 573.5 L730 641.3 L733.9 516.2 L737.8 486.3 L742.3 508.4 L746.2 567 L751.9 606.1 L756.1 547.5 L760 525.3 L764.4 522.7 L767.8 440.7 L772.2 471.9 L776.1 474 L782.1 457.6 L785.8 492.8 L789.9 574.8 L793.8 516.2 L797.7 514.1 L801.7 559.2 L806.1 560.5 L811.8 512.3 L816 525.3 L819.9 571.7 L824.3 578.2 L828.2 479.2 L832.1 485.5 L836 390.7 L839.9 406.3 L849.8 351.3 L853.8 428.9 L857.7 455.8 L862.1 408.1 L866 447.2 L869.9 409.9 L875.9 425 L884.2 375 L888.1 375 L892 483.7 L896 526.1 L901.2 482.3 L905.9 432.9 L911.6 482.3 L917.6 563.1 L922 512.3 L925.9 582.6 L929.8 600.9 L933.7 577.4 L940.2 560.5 L944.1 647.2 L953.3 573.5 L960.3 535.8 L964.2 613.9 L969.7 580 L974.1 603 L978 543.6 L982.4 539.1 L987.1 508.4 L991 492.8 L994.2 466.7 L998.1 544.9 L1004.1 513.6 L1008 534.4 L1011.9 587.3 L1015.8 546.2 L1020.2 528.7 L1023.6 552.2 L1028.3 521.4 L1034 544.9 L1038.4 548.8 L1041.8 492.8 L1045.6 430.1 L1050.3 410 L1054.2 423.6 L1058.1 486.1 L1063.8 406.6 L1067.7 305 L1071.6 292 L1074.2 315.5 L1078.1 271.2 L1083.9 230.8 L1088 232.1 L1091.7 262.6 L1097.7 262.1 L1101.6 305.8 L1105.5 320.7 L1110.2 332.4 L1113.8 367 L1117.7 325.9 L1121.9 315.5 L1127.6 307.6 L1132.1 289.9 L1136 297.2 L1140.7 346.7 L1144.1 365.5 L1148.5 332.4 L1152.4 307.6 L1157.6 328.5 L1162.3 351.9 L1166.2 390.5 L1170.1 415.8 L1174 388.9 L1178.4 477 L1181.8 463.9 L1186.3 496 L1192 469.2 L1196.2 473.1 L1200.1 467.8 L1204 518.6 L1208.4 523.9 L1211.8 546 L1214.9 613.8 L1218.8 629.4 L1221.9 639.8 L1225.9 629.4 L1229.8 647.6 L1233.7 632.5 L1237.8 670.6 L1241.7 656 L1246.2 721.1 L1256.6 686.7 L1260.5 645 L1264.4 616.4 L1267.8 648.2 L1271.7 619 L1275.6 573.4 L1280 569 L1286.5 590.3 L1289.9 613.8 L1293.8 661.5 L1298.3 655.5 L1301.7 611.2 L1306.1 610.4 L1310 634.6 L1312.6 660.7 L1320.4 689.3 L1324.3 736.2 L1328.2 747.9 L1331.6 818.3 L1336 810.5 L1339.9 762.3 L1350.4 780.5 L1362.1 768.8 L1366 798.7 L1369.9 776.6 L1374.3 772.7 L1380.3 787 L1384.2 764.9 L1388.1 712.8 L1392 668.5 L1396 668.5 L1399.9 621.6 L1403.8 597.6 L1410.3 600.8 L1414.2 628.1 L1418.1 574.7 L1422 585.1 L1425.9 588.3 L1429.8 609.9 L1433.7 579.4 L1437.6 588.3 L1444.1 580.4 L1448.1 563 L1451.2 530.4 L1452.7 512.1 L1455.9 517.3 L1459.8 559.1 L1463.7 561.7 L1468.1 551.8 L1475.4 568.2 L1478 599.5 L1481.9 559.1 L1485.8 540.3 L1489.7 556.5 L1494.9 533 L1498.1 510.8 L1504.1 503 L1508 485.3 L1511.9 492.6 L1515.8 505.6 L1520 473.6 L1523.9 481.4 L1527.8 463.2 L1533 486.6 L1536.9 504.9 L1542.1 514 L1546 538.7 L1553.9 530.9 L1558.3 540.8 L1561.7 498.4 L1568.2 484 L1572.1 503.6 L1575.5 505.4 L1579.9 466.3 L1583.8 503.6 L1587.7 501 L1592.9 473.6 L1597.4 469.7 L1602.1 488.7 L1609.9 437.1 L1613.8 460.6 L1617.7 468.4 L1622.1 438.4 L1626.3 454.9 L1632 455.4 L1635.9 500.2 L1639.8 461.9 L1643.7 520 L1647.6 518.7 L1652.1 473.6 L1655.5 493.1 L1662 478.8 L1665.9 445 L1670.3 435.1 L1674.2 461.1 L1678.1 430.6 L1682 471 L1685.9 404.6 L1690.6 439.2 L1696.6 446.3 L1706.3 395.5 L1712.2 424.1 L1716.2 476.2 L1720.1 446.3 L1725.8 477 L1730.5 422 L1734.4 439.7 L1740.1 426.7 L1744 439.7 L1750 474.9 L1755.8 452.8 L1759.7 481.4 L1764.1 486.6 L1770.1 463.2 L1776.6 444.4 L1780 467.1 L1783.9 411.1 L1788.3 398.1 L1793.5 385 L1796.1 408.5 L1801.9 520 L1805.2 390.2 L1809.9 272.2 L1814.4 426.7 L1820.1 326.4 L1824 377.2 L1830 364.2 L1839.1 400.7 L1844.3 339.5 L1850.8 364.2 L1854.2 429.3 L1857.9 484 L1862 478.8 L1865.9 452.8 L1870.4 460.1 L1874.3 473.6 L1879.5 497.1 L1884.7 523.1 L1886.4 559.9 L1888.5 593.8 L1891.6 631.6 L1895.5 634.2 L1900.2 646.7 L1904.1 642 L1908 679.7 L1913.8 653.7 L1918.2 639.4 L1922.1 649.8 L1926 583.9 L1933.8 648 L1938 621.1 L1944.3 660.2 L1948.2 606.3 L1952.1 683.1 L1956.2 662.8 L1960.7 677.1 L1964.6 699.3 L1968 747.5 L1971.9 744.9 L1977.6 771.7 L1981.5 767 L1986.2 780 L1989.8 769.6 L1994 746.2 L1997.9 767 L2008.1 732.6 L2012 759.2 L2015.9 761.8 L2019.8 738.4 L2023.7 693.5 L2027.9 705.8 L2032.3 695.4 L2037.5 664.1 L2042.2 649.3 L2046.1 682.3 L2049.2 708.4 L2058.4 721.9 L2062.3 767 L2066.2 764.4 L2072.2 775.6 L2076.6 774 L2080 770.9 L2083.9 755.3 L2085.7 729.2 L2087.8 678.4 L2091.7 700.6 L2095.6 682.3 L2101.3 688.1 L2106.5 661.5 L2109.9 654.2 L2113.8 688.9 L2118.3 659.4 L2121.7 670.6 L2126.1 630.8 L2130 664.1 L2136 687.6 L2143.8 639.4 L2147.7 638.6 L2151.6 605.5 L2156 603.4 L2159.9 609.4 L2165.9 625 L2169.8 601.6 L2178.2 575.5 L2182.1 521.4 L2186 520.8 L2189.9 517.7 L2195.9 522.1 L2200.3 494 L2204.2 520.8 L2208.1 537.8 L2210.7 535.2 L2216 559.4 L2219.9 539.1 L2225.1 472.1 L2230.3 546.4 L2234.2 522.1 L2238.1 518.8 L2243.3 500 L2246.4 409.6 L2250.3 391.9 L2254.2 430.4 L2259.9 405.7 L2263.8 416.1 L2268 362.7 L2272.4 331.4 L2276.3 302.8 L2280.2 219.4 L2284.1 196 L2289.9 166.8 L2294 214.2 L2298 286.6 L2301.6 263.7 L2305.5 180.3 L2310.2 159 L2314.1 181.6 L2318.8 138.1" stroke="#f4770a" stroke-width="4.1" fill="none" stroke-linejoin="round" stroke-linecap="round"/>
<path d="M148 297H2504" stroke="#c8504d" stroke-width="2" stroke-dasharray="2 4" fill="none"/>
<rect x="268.5" y="660.8" width="151.3" height="608.5" rx="6" fill="none" stroke="#f24d47" stroke-width="8.4"/><rect x="464.6" y="336" width="235.4" height="937.2" rx="6" fill="none" stroke="#39c529" stroke-width="8.4"/><rect x="1078.2" y="216" width="237.6" height="641.6" rx="6" fill="none" stroke="#f24d47" stroke-width="8.4"/><rect x="1346.2" y="218.1" width="203.6" height="653.2" rx="6" fill="none" stroke="#39c529" stroke-width="8.4"/><rect x="1834.2" y="136.3" width="217.6" height="657.2" rx="6" fill="none" stroke="#f24d47" stroke-width="8.4"/><rect x="2174.2" y="130.2" width="187.6" height="663.3" rx="6" fill="none" stroke="#39c529" stroke-width="8.4"/>
</g>
<path d="M147 6V1401M2505 6V1401M8 1345H2676M8 1401H2676" stroke="#e0e3eb" stroke-width="2" fill="none"/>
<circle cx="195" cy="1299.6" r="33.2" fill="#fff" stroke="#e6e6e8" stroke-width="1.6"/>
<path d="M174 1290H192V1312H184V1297.6H174z" fill="#131722"/>
<circle cx="198" cy="1294" r="4" fill="#131722"/>
<path d="M207 1290H216.6L208 1312H198.1z" fill="#131722"/>
<circle cx="78" cy="1372" r="19" fill="#f1f2f6"/>
<circle cx="2590" cy="1372" r="19" fill="#f1f2f6"/>
<circle cx="839" cy="39" r="18" fill="#e2f2ef"/>
<circle cx="839" cy="39" r="7.9" fill="#089981"/>
<path d="M84.5 29.5L89.2 34L94 29.5" stroke="#131722" stroke-width="2.2" fill="none"/>
<path d="M2580 29L2585 34L2590 29" stroke="#131722" stroke-width="2.2" fill="none"/>
<path d="M18 127a4 4 0 0 1 4-4H148V157H22a4 4 0 0 1-4-4z" fill="#ff6d00"/>
</svg>
<div class="box" style="left:163.5px;width:150px;border-color:#c0495c"></div>
<div class="box" style="left:417px;width:150px;border-color:#2f60c0"></div>
<div class="dot" style="left:346px"></div><div class="dot" style="left:421px"></div><div class="dot" style="left:599px"></div>
<div id="usdl" class="t" style="top:17.9px;height:31px;line-height:31px;font-size:24.2px;color:#131722;letter-spacing:-1.04px;left:28.9px;">USD</div>
<div id="usdr" class="t" style="top:17.9px;height:31px;line-height:31px;font-size:24.2px;color:#131722;letter-spacing:-0.79px;left:2524.4px;">USD</div>
<div id="l0" class="t" style="top:86.5px;height:32px;line-height:32px;font-size:24.5px;color:#131722;letter-spacing:0.97px;right:2556.6px;">106.000</div>
<div id="l1" class="t" style="top:170.8px;height:32px;line-height:32px;font-size:24.5px;color:#131722;letter-spacing:0.97px;right:2556.6px;">104.000</div>
<div id="l2" class="t" style="top:255.1px;height:32px;line-height:32px;font-size:24.5px;color:#131722;letter-spacing:0.97px;right:2556.6px;">102.000</div>
<div id="l3" class="t" style="top:339.4px;height:32px;line-height:32px;font-size:24.5px;color:#131722;letter-spacing:0.97px;right:2556.6px;">100.000</div>
<div id="l4" class="t" style="top:423.7px;height:32px;line-height:32px;font-size:24.5px;color:#131722;letter-spacing:1.25px;right:2556.3px;">98.000</div>
<div id="l5" class="t" style="top:508.0px;height:32px;line-height:32px;font-size:24.5px;color:#131722;letter-spacing:1.25px;right:2556.3px;">96.000</div>
<div id="l6" class="t" style="top:592.3px;height:32px;line-height:32px;font-size:24.5px;color:#131722;letter-spacing:1.25px;right:2556.3px;">94.000</div>
<div id="l7" class="t" style="top:676.6px;height:32px;line-height:32px;font-size:24.5px;color:#131722;letter-spacing:1.25px;right:2556.3px;">92.000</div>
<div id="l8" class="t" style="top:760.9px;height:32px;line-height:32px;font-size:24.5px;color:#131722;letter-spacing:1.25px;right:2556.3px;">90.000</div>
<div id="l9" class="t" style="top:845.2px;height:32px;line-height:32px;font-size:24.5px;color:#131722;letter-spacing:1.25px;right:2556.3px;">88.000</div>
<div id="l10" class="t" style="top:929.5px;height:32px;line-height:32px;font-size:24.5px;color:#131722;letter-spacing:1.25px;right:2556.3px;">86.000</div>
<div id="l11" class="t" style="top:1013.8px;height:32px;line-height:32px;font-size:24.5px;color:#131722;letter-spacing:1.25px;right:2556.3px;">84.000</div>
<div id="l12" class="t" style="top:1098.1px;height:32px;line-height:32px;font-size:24.5px;color:#131722;letter-spacing:1.25px;right:2556.3px;">82.000</div>
<div id="l13" class="t" style="top:1182.4px;height:32px;line-height:32px;font-size:24.5px;color:#131722;letter-spacing:1.25px;right:2556.3px;">80.000</div>
<div id="l14" class="t" style="top:1266.7px;height:32px;line-height:32px;font-size:24.5px;color:#131722;letter-spacing:1.25px;right:2556.3px;">78.000</div>
<div id="lo" class="t" style="top:123.8px;height:32px;line-height:32px;font-size:24.5px;color:#fff;letter-spacing:0.97px;right:2556.6px;">105.120</div>
<div id="r0" class="t" style="top:55.8px;height:32px;line-height:32px;font-size:24.5px;color:#131722;letter-spacing:1.40px;left:2524.7px;">120000.00</div>
<div id="r1" class="t" style="top:122.2px;height:32px;line-height:32px;font-size:24.5px;color:#131722;letter-spacing:1.47px;left:2524.7px;">70000.00</div>
<div id="r2" class="t" style="top:185.1px;height:32px;line-height:32px;font-size:24.5px;color:#131722;letter-spacing:1.47px;left:2524.7px;">42000.00</div>
<div id="r3" class="t" style="top:254.0px;height:32px;line-height:32px;font-size:24.5px;color:#131722;letter-spacing:1.47px;left:2524.7px;">24000.00</div>
<div id="r4" class="t" style="top:320.4px;height:32px;line-height:32px;font-size:24.5px;color:#131722;letter-spacing:1.47px;left:2524.7px;">14000.00</div>
<div id="r5" class="t" style="top:389.4px;height:32px;line-height:32px;font-size:24.5px;color:#131722;letter-spacing:1.37px;left:2524.7px;">8000.00</div>
<div id="r6" class="t" style="top:452.3px;height:32px;line-height:32px;font-size:24.5px;color:#131722;letter-spacing:1.37px;left:2524.7px;">4800.00</div>
<div id="r7" class="t" style="top:518.7px;height:32px;line-height:32px;font-size:24.5px;color:#131722;letter-spacing:1.37px;left:2524.7px;">2800.00</div>
<div id="r8" class="t" style="top:587.6px;height:32px;line-height:32px;font-size:24.5px;color:#131722;letter-spacing:1.37px;left:2524.7px;">1600.00</div>
<div id="r9" class="t" style="top:658.5px;height:32px;line-height:32px;font-size:24.5px;color:#131722;letter-spacing:1.35px;left:2524.7px;">900.00</div>
<div id="r10" class="t" style="top:719.1px;height:32px;line-height:32px;font-size:24.5px;color:#131722;letter-spacing:1.35px;left:2524.7px;">550.00</div>
<div id="r11" class="t" style="top:783.9px;height:32px;line-height:32px;font-size:24.5px;color:#131722;letter-spacing:1.35px;left:2524.7px;">325.00</div>
<div id="r12" class="t" style="top:853.3px;height:32px;line-height:32px;font-size:24.5px;color:#131722;letter-spacing:1.35px;left:2524.7px;">185.00</div>
<div id="r13" class="t" style="top:923.1px;height:32px;line-height:32px;font-size:24.5px;color:#131722;letter-spacing:1.35px;left:2524.7px;">105.00</div>
<div id="r14" class="t" style="top:992.0px;height:32px;line-height:32px;font-size:24.5px;color:#131722;letter-spacing:1.45px;left:2524.7px;">60.00</div>
<div id="r15" class="t" style="top:1054.9px;height:32px;line-height:32px;font-size:24.5px;color:#131722;letter-spacing:1.45px;left:2524.7px;">36.00</div>
<div id="r16" class="t" style="top:1115.6px;height:32px;line-height:32px;font-size:24.5px;color:#131722;letter-spacing:1.45px;left:2524.7px;">22.00</div>
<div id="r17" class="t" style="top:1180.4px;height:32px;line-height:32px;font-size:24.5px;color:#131722;letter-spacing:1.45px;left:2524.7px;">13.00</div>
<div id="r18" class="t" style="top:1248.1px;height:32px;line-height:32px;font-size:24.5px;color:#131722;letter-spacing:1.50px;left:2524.7px;">7.50</div>
<div id="r19" class="t" style="top:1311.0px;height:32px;line-height:32px;font-size:24.5px;color:#131722;letter-spacing:1.50px;left:2524.7px;">4.50</div>
<div id="y0" class="t" style="top:1358.3px;height:31px;line-height:31px;font-size:24px;color:#131722;letter-spacing:3.20px;font-weight:700;left:61.1px;width:300px;text-align:center;">2013</div>
<div id="y1" class="t" style="top:1358.3px;height:31px;line-height:31px;font-size:24px;color:#131722;letter-spacing:3.20px;font-weight:700;left:283.1px;width:300px;text-align:center;">2014</div>
<div id="y2" class="t" style="top:1358.3px;height:31px;line-height:31px;font-size:24px;color:#131722;letter-spacing:3.20px;font-weight:700;left:505.1px;width:300px;text-align:center;">2015</div>
<div id="y3" class="t" style="top:1358.3px;height:31px;line-height:31px;font-size:24px;color:#131722;letter-spacing:3.20px;font-weight:700;left:727.1px;width:300px;text-align:center;">2016</div>
<div id="y4" class="t" style="top:1358.3px;height:31px;line-height:31px;font-size:24px;color:#131722;letter-spacing:3.20px;font-weight:700;left:949.1px;width:300px;text-align:center;">2017</div>
<div id="y5" class="t" style="top:1358.3px;height:31px;line-height:31px;font-size:24px;color:#131722;letter-spacing:3.20px;font-weight:700;left:1171.1px;width:300px;text-align:center;">2018</div>
<div id="y6" class="t" style="top:1358.3px;height:31px;line-height:31px;font-size:24px;color:#131722;letter-spacing:3.20px;font-weight:700;left:1398.1px;width:300px;text-align:center;">2019</div>
<div id="y7" class="t" style="top:1358.3px;height:31px;line-height:31px;font-size:24px;color:#131722;letter-spacing:3.20px;font-weight:700;left:1620.1px;width:300px;text-align:center;">2020</div>
<div id="y8" class="t" style="top:1358.3px;height:31px;line-height:31px;font-size:24px;color:#131722;letter-spacing:3.20px;font-weight:700;left:1842.1px;width:300px;text-align:center;">2021</div>
<div id="y9" class="t" style="top:1358.3px;height:31px;line-height:31px;font-size:24px;color:#131722;letter-spacing:3.20px;font-weight:700;left:2064.1px;width:300px;text-align:center;">2022</div>
<div id="y10" class="t" style="top:1358.3px;height:31px;line-height:31px;font-size:24px;color:#131722;letter-spacing:3.20px;font-weight:700;left:2286.1px;width:300px;text-align:center;">2023</div>
<div id="z" class="t" style="top:1357.5px;height:30px;line-height:30px;font-size:23px;color:#50535e;letter-spacing:0.00px;left:-72.0px;width:300px;text-align:center;">Z</div>
<div id="a" class="t" style="top:1357.5px;height:30px;line-height:30px;font-size:23px;color:#50535e;letter-spacing:0.00px;left:2440.0px;width:300px;text-align:center;">A</div>
<div id="t1" class="t" style="top:19.5px;height:41px;line-height:41px;font-size:31.5px;color:#131722;letter-spacing:0.51px;left:165.9px;">比特币/美元</div>
<div id="t2" class="t" style="top:19.5px;height:41px;line-height:41px;font-size:31.5px;color:#131722;letter-spacing:0.17px;left:361.0px;">1周</div>
<div id="t3" class="t" style="top:18.9px;height:41px;line-height:41px;font-size:31.5px;color:#131722;letter-spacing:-0.31px;left:435.2px;">BITSTAMP</div>
<div id="t4" class="t" style="top:18.9px;height:41px;line-height:41px;font-size:31.5px;color:#131722;letter-spacing:0.36px;left:612.0px;">TradingView</div>
<div id="o1" class="t" style="top:22.5px;height:33px;line-height:33px;font-size:25.5px;color:#505158;letter-spacing:-0.41px;left:887.8px;">开=</div>
<div id="o2" class="t" style="top:22.1px;height:35px;line-height:35px;font-size:26.8px;color:#dc4f4f;letter-spacing:0.98px;left:934.0px;">21029.19</div>
<div id="o3" class="t" style="top:22.5px;height:33px;line-height:33px;font-size:25.5px;color:#505158;letter-spacing:-0.41px;left:1066.4px;">高=</div>
<div id="o4" class="t" style="top:22.1px;height:35px;line-height:35px;font-size:26.8px;color:#dc4f4f;letter-spacing:0.92px;left:1111.6px;">21516.85</div>
<div id="o5" class="t" style="top:22.5px;height:33px;line-height:33px;font-size:25.5px;color:#505158;letter-spacing:-0.41px;left:1243.6px;">低=</div>
<div id="o6" class="t" style="top:22.1px;height:35px;line-height:35px;font-size:26.8px;color:#dc4f4f;letter-spacing:0.93px;left:1289.6px;">18595.60</div>
<div id="o7" class="t" style="top:22.5px;height:33px;line-height:33px;font-size:25.5px;color:#505158;letter-spacing:-0.41px;left:1421.6px;">收=</div>
<div id="o8" class="t" style="top:22.1px;height:35px;line-height:35px;font-size:26.8px;color:#dc4f4f;letter-spacing:0.92px;left:1466.8px;">19203.39</div>
<div id="o9" class="t" style="top:22.1px;height:35px;line-height:35px;font-size:26.8px;color:#dc4f4f;letter-spacing:0.84px;left:1599.0px;">−1825.30</div>
<div id="o10" class="t" style="top:22.1px;height:35px;line-height:35px;font-size:26.8px;color:#dc4f4f;letter-spacing:0.36px;left:1728.0px;">(−8.68%)</div>
<div id="b1" class="t" style="top:78.9px;height:34px;line-height:34px;font-size:26px;color:#cf4359;letter-spacing:1.34px;left:182.4px;">19192.92</div>
<div id="b2" class="t" style="top:78.9px;height:34px;line-height:34px;font-size:26px;color:#5f6269;letter-spacing:0.62px;left:334.8px;">11.48</div>
<div id="b3" class="t" style="top:78.9px;height:34px;line-height:34px;font-size:26px;color:#3366cc;letter-spacing:1.45px;left:435.0px;">19204.40</div>
<div id="d1" class="t" style="top:134.8px;height:34px;line-height:34px;font-size:26.3px;color:#131722;letter-spacing:-0.20px;left:165.9px;">DXY, TVC</div>
<div id="d2" class="t" style="top:135.5px;height:33px;line-height:33px;font-size:25.6px;color:#e8801a;letter-spacing:1.56px;left:300.0px;">105.120</div>
<div id="d3" class="t" style="top:135.5px;height:33px;line-height:33px;font-size:25.6px;color:#e8801a;letter-spacing:1.84px;left:415.0px;">+0.999</div>
<div id="d4" class="t" style="top:135.5px;height:33px;line-height:33px;font-size:25.6px;color:#e8801a;letter-spacing:1.38px;left:512.0px;">(+0.96%)</div>
<div id="big" class="t" style="top:74.8px;height:55px;line-height:55px;font-size:42.5px;color:#e2453f;letter-spacing:-0.14px;left:1206.6px;">比特币 VS 美元指数</div>
<div id="plab"></div><div id="p1" class="t" style="top:280.7px;height:32px;line-height:32px;font-size:24.5px;color:#fff;letter-spacing:1.47px;left:2525.7px;">19203.39</div>
<div id="p2" class="t" style="top:308.0px;height:32px;line-height:32px;font-size:24.5px;color:rgba(255,255,255,.82);letter-spacing:0.80px;left:2525.7px;">1d 8h</div>

</body></html>
